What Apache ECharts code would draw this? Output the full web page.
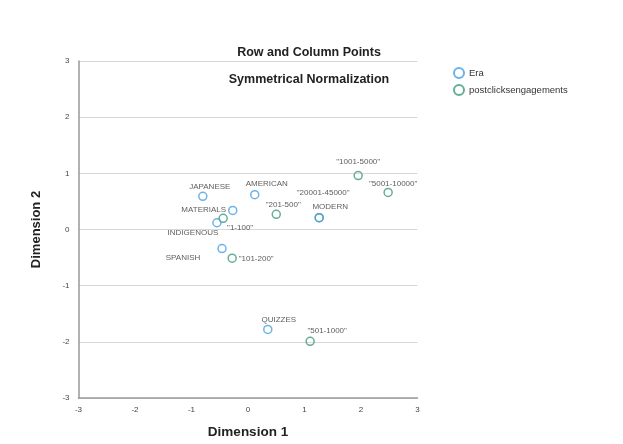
<!DOCTYPE html>
<html><head><meta charset="utf-8">
<script src="https://cdn.jsdelivr.net/npm/echarts@6/dist/echarts.min.js"></script>
<style>html,body{margin:0;padding:0;background:#fff}#c{width:623px;height:444px}</style>
</head><body><div id="c"></div>
<script>
// Row points (Era)
const eraNames = ["JAPANESE","AMERICAN","MATERIALS","INDIGENOUS","MODERN","SPANISH","QUIZZES"];
const eraDim1  = [-0.80, 0.12, -0.27, -0.55, 1.26, -0.46, 0.35];
const eraDim2  = [ 0.59, 0.62,  0.34,  0.12, 0.21, -0.34, -1.78];
// Column points (postclicksengagements)
const postNames = ["\"1-100\"","\"101-200\"","\"201-500\"","\"501-1000\"","\"1001-5000\"","\"5001-10000\"","\"20001-45000\""];
const postDim1  = [-0.44, -0.28, 0.50, 1.10, 1.95, 2.48, 1.26];
const postDim2  = [ 0.20, -0.51, 0.27, -1.99, 0.96, 0.66, 0.21];
const axisTicks = [-3,-2,-1,0,1,2,3];

// label placement (pixel offsets of label centre from point)
const eraLabelOffsets  = [[7,-10],[12,-11],[-29,-1],[-24,10],[11,-11],[-39,9],[11,-10]];
const postLabelOffsets = [[17,10],[24,1],[7,-10],[17,-10],[0,-14],[5,-9],[4,-25]];

const blue = "#4a9fe0", green = "#3f9a7c";
function build(names, xs, ys, offs){
  return names.map((n,i)=>({name:n, value:[xs[i],ys[i]],
    label:{show:true, formatter:n, position:'inside', offset:offs[i], color:'#333', fontSize:8, fontFamily:'Liberation Sans'}}));
}
const chart = echarts.init(document.getElementById('c'), null, {renderer:'canvas'});
chart.setOption({
  animation:false,
  title:[
    {text:'Row and Column Points', left:304, top:41, textAlign:'center', textStyle:{fontSize:12.5, fontWeight:'bold', color:'#222', fontFamily:'Liberation Sans'}},
    {text:'Symmetrical Normalization', left:304, top:68, textAlign:'center', textStyle:{fontSize:12.5, fontWeight:'bold', color:'#222', fontFamily:'Liberation Sans'}}
  ],
  legend:{orient:'vertical', left:448, top:62, itemWidth:10, itemHeight:10, itemGap:5,
    textStyle:{fontSize:9.5, color:'#333', fontFamily:'Liberation Sans'},
    data:[{name:'Era', icon:'circle', itemStyle:{color:'#fff', borderColor:blue, borderWidth:2}},
          {name:'postclicksengagements', icon:'circle', itemStyle:{color:'#fff', borderColor:green, borderWidth:2}}]},
  grid:{left:78.5, right:205.5, top:61, bottom:45},
  xAxis:{type:'value', min:-3, max:3, interval:1, name:'Dimension 1', nameLocation:'middle', nameGap:27,
    nameTextStyle:{fontSize:13.5, fontWeight:'bold', color:'#222', fontFamily:'Liberation Sans'},
    axisLine:{show:true, onZero:false, lineStyle:{color:'#999', width:1.5}}, axisTick:{show:false},
    splitLine:{show:false}, axisLabel:{fontSize:8, color:'#444', margin:8, fontFamily:'Liberation Sans'}},
  yAxis:{type:'value', min:-3, max:3, interval:1, name:'Dimension 2', nameLocation:'middle', nameGap:36,
    nameTextStyle:{fontSize:13, fontWeight:'bold', color:'#222', fontFamily:'Liberation Sans'},
    axisLine:{show:true, onZero:false, lineStyle:{color:'#999', width:1.5}}, axisTick:{show:false},
    splitLine:{show:true, lineStyle:{color:'#d8d8d8', width:1}}, axisLabel:{fontSize:8, color:'#444', margin:9, fontFamily:'Liberation Sans'}},
  series:[
    {name:'postclicksengagements', type:'scatter', z:2, symbol:'circle', symbolSize:8,
      itemStyle:{color:'rgba(255,255,255,0)', borderColor:green, borderWidth:1.5},
      data:build(postNames, postDim1, postDim2, postLabelOffsets)},
    {name:'Era', type:'scatter', z:3, symbol:'circle', symbolSize:8,
      itemStyle:{color:'rgba(255,255,255,0)', borderColor:blue, borderWidth:1.5},
      data:build(eraNames, eraDim1, eraDim2, eraLabelOffsets)}
  ]
});
</script></body></html>
